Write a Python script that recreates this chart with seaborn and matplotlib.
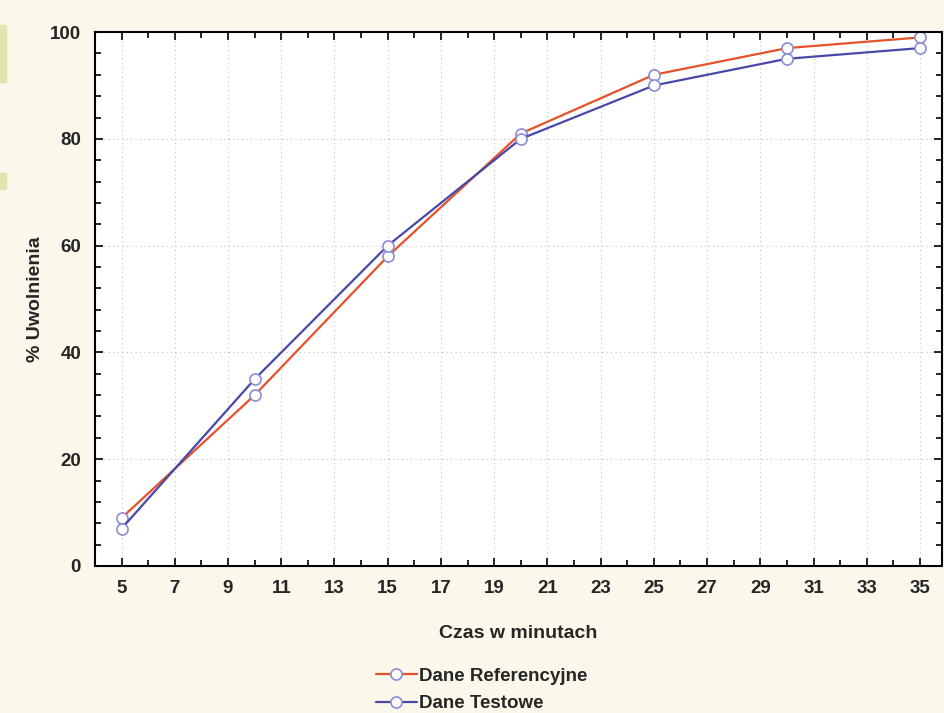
import numpy as np
import pandas as pd
import seaborn as sns
import matplotlib.pyplot as plt
from matplotlib.ticker import MultipleLocator
from matplotlib.patches import Rectangle

sns.set_style("ticks")
plt.rcParams['font.family'] = ['Liberation Sans', 'DejaVu Sans']

# data
czas = [5, 10, 15, 20, 25, 30, 35]
dane_ref = [9, 32, 58, 81, 92, 97, 99]
dane_test = [7, 35, 60, 80, 90, 95, 97]
series_names = ["Dane Referencyjne", "Dane Testowe"]
series_colors = ["#e8502a", "#4848a8"]

df = pd.DataFrame({
    "czas": czas * 2,
    "uwolnienie": dane_ref + dane_test,
    "seria": [series_names[0]] * len(czas) + [series_names[1]] * len(czas),
})

bg = "#fbf7ea"
fig = plt.figure(figsize=(9.44, 7.13), dpi=100, facecolor=bg)
ax = fig.add_axes([0.1006, 0.2062, 0.8974, 0.7488])
ax.set_facecolor("white")

for name, col in zip(series_names, series_colors):
    sub = df[df["seria"] == name]
    sns.lineplot(data=sub, x="czas", y="uwolnienie", ax=ax, color=col,
                 label=name, linewidth=1.6, marker="o", markersize=8,
                 markerfacecolor="white", markeredgecolor="#8c8cd6",
                 markeredgewidth=1.2)

ax.set_xlim(4, 35.83)
ax.set_ylim(0, 100)
ax.set_xticks(range(5, 36, 2))
ax.xaxis.set_minor_locator(MultipleLocator(1))
ax.yaxis.set_major_locator(MultipleLocator(20))
ax.yaxis.set_minor_locator(MultipleLocator(4))
ax.tick_params(which="both", direction="in", top=True, right=True,
               width=1.2, color="black")
ax.tick_params(which="major", length=6, labelsize=13.5, pad=10)
ax.tick_params(which="minor", length=4)
for lab in ax.get_xticklabels() + ax.get_yticklabels():
    lab.set_fontweight("bold")
ax.grid(True, which="major", linestyle=(0, (1, 3)), color="#c0c0c0",
        linewidth=0.8)
for sp in ax.spines.values():
    sp.set_linewidth(1.5)
    sp.set_color("black")

ax.set_xlabel("Czas w minutach", fontsize=14, fontweight="bold", labelpad=20)
ax.set_ylabel("% Uwolnienia", fontsize=14, fontweight="bold", labelpad=4)

ax.legend(loc="upper left", bbox_to_anchor=(0.38, 0.087),
          bbox_transform=fig.transFigure, frameon=False,
          handlelength=2.2, handletextpad=0.1, labelspacing=0.55,
          prop={"weight": "bold", "size": 13.5})

# green marks on the left edge of the scan
fig.patches.append(Rectangle((0, 0.885), 0.006, 0.08, transform=fig.transFigure,
                             color="#dfe6b0", zorder=0))
fig.patches.append(Rectangle((0, 0.735), 0.006, 0.022, transform=fig.transFigure,
                             color="#dfe6b0", zorder=0))

fig.savefig("out.png", dpi=100, facecolor=bg)
